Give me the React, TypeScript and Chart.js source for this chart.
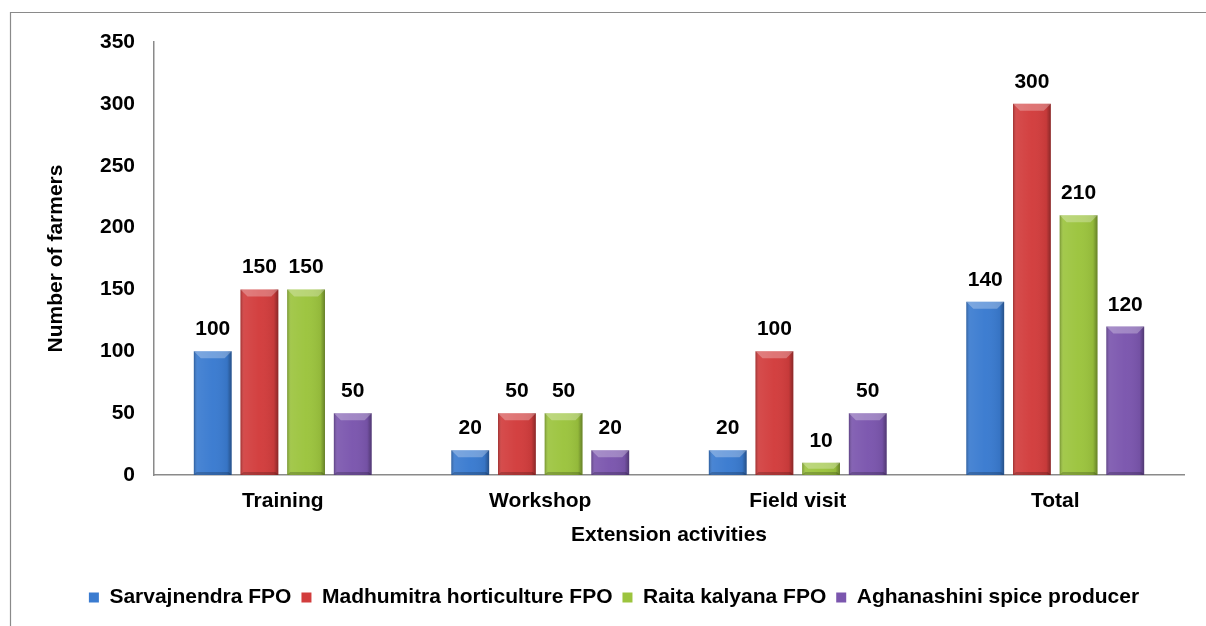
import React, { useEffect, useRef } from "react";
import { Chart, registerables } from "chart.js";

Chart.register(...registerables);

const categories = ["Training", "Workshop", "Field visit", "Total"];
const seriesNames = [
  "Sarvajnendra FPO",
  "Madhumitra horticulture FPO",
  "Raita kalyana FPO",
  "Aghanashini spice producer",
];
const sarvajnendra = [100, 20, 20, 140];
const madhumitra = [150, 50, 100, 300];
const raitaKalyana = [150, 50, 10, 210];
const aghanashini = [50, 20, 50, 120];
const yTicks = [0, 50, 100, 150, 200, 250, 300, 350];
const seriesColors = ["#3a7bd0", "#d23d3d", "#9cc43e", "#7b56ae"];

const FONT = "'Liberation Sans', Arial, Helvetica, sans-serif";

const framePlugin = {
  id: "frame",
  beforeDraw(chart: any) {
    const ctx = chart.ctx;
    ctx.save();
    ctx.fillStyle = "#ffffff";
    ctx.fillRect(0, 0, chart.width, chart.height);
    ctx.strokeStyle = "#8a8a8a";
    ctx.lineWidth = 1.2;
    ctx.beginPath();
    ctx.moveTo(10.5, chart.height);
    ctx.lineTo(10.5, 12.5);
    ctx.lineTo(chart.width, 12.5);
    ctx.stroke();
    ctx.restore();
  },
};

const bevelPlugin = {
  id: "bevel",
  afterDatasetsDraw(chart: any) {
    const ctx = chart.ctx;
    ctx.save();
    chart.data.datasets.forEach((_ds: any, di: number) => {
      const meta = chart.getDatasetMeta(di);
      meta.data.forEach((bar: any) => {
        const w = bar.width;
        const left = bar.x - w / 2;
        const right = bar.x + w / 2;
        const top = bar.y;
        const bottom = bar.base;
        const h = bottom - top;
        if (h <= 0) return;
        const g = ctx.createLinearGradient(left, 0, right, 0);
        g.addColorStop(0, "rgba(0,0,0,0.25)");
        g.addColorStop(0.1, "rgba(255,255,255,0.08)");
        g.addColorStop(0.5, "rgba(255,255,255,0.02)");
        g.addColorStop(0.88, "rgba(0,0,0,0.06)");
        g.addColorStop(1, "rgba(0,0,0,0.35)");
        ctx.fillStyle = g;
        ctx.fillRect(left, top, w, h);
        const b = Math.min(7, h / 2);
        ctx.fillStyle = "rgba(255,255,255,0.28)";
        ctx.beginPath();
        ctx.moveTo(left, top);
        ctx.lineTo(right, top);
        ctx.lineTo(right - b, top + b);
        ctx.lineTo(left + b, top + b);
        ctx.closePath();
        ctx.fill();
        const bb = Math.min(3, b);
        ctx.fillStyle = "rgba(0,0,0,0.2)";
        ctx.beginPath();
        ctx.moveTo(left, bottom);
        ctx.lineTo(right, bottom);
        ctx.lineTo(right - bb, bottom - bb);
        ctx.lineTo(left + bb, bottom - bb);
        ctx.closePath();
        ctx.fill();
      });
    });
    ctx.restore();
  },
};

const valueLabelPlugin = {
  id: "valueLabels",
  afterDatasetsDraw(chart: any) {
    const ctx = chart.ctx;
    ctx.save();
    ctx.font = `bold 21px ${FONT}`;
    ctx.fillStyle = "#000000";
    ctx.textAlign = "center";
    ctx.textBaseline = "alphabetic";
    chart.data.datasets.forEach((ds: any, di: number) => {
      const meta = chart.getDatasetMeta(di);
      meta.data.forEach((bar: any, i: number) => {
        ctx.fillText(String(ds.data[i]), bar.x, bar.y - 16);
      });
    });
    ctx.restore();
  },
};

export default function App() {
  const canvasRef = useRef<HTMLCanvasElement | null>(null);

  useEffect(() => {
    const canvas = canvasRef.current;
    if (!canvas) return;
    const seriesValues = [sarvajnendra, madhumitra, raitaKalyana, aghanashini];
    const chart = new Chart(canvas, {
      type: "bar",
      data: {
        labels: categories,
        datasets: seriesNames.map((name, i) => ({
          label: name,
          data: seriesValues[i],
          backgroundColor: seriesColors[i],
          borderWidth: 0,
          categoryPercentage: 0.725,
          barPercentage: 0.81,
        })),
      },
      options: {
        responsive: false,
        animation: false,
        layout: { padding: { top: 42, right: 0, left: 22, bottom: 8 } },
        plugins: {
          legend: {
            position: "bottom",
            labels: {
              color: "#000000",
              font: { family: FONT, size: 21, weight: "bold" },
              boxWidth: 10,
              boxHeight: 10,
              padding: 10,
            },
          },
          tooltip: { enabled: false },
        },
        scales: {
          x: {
            grid: { display: false, drawTicks: false },
            border: { display: true, color: "#8a8a8a", width: 1.5 },
            ticks: {
              color: "#000000",
              font: { family: FONT, size: 21, weight: "bold" },
              padding: 14,
            },
            title: {
              display: true,
              text: "Extension activities",
              color: "#000000",
              font: { family: FONT, size: 21, weight: "bold" },
              padding: { top: 0, bottom: 29 },
            },
            afterFit: (s: any) => {
              s.height = 102;
            },
          },
          y: {
            min: 0,
            max: 350,
            afterBuildTicks: (s: any) => {
              s.ticks = yTicks.map((v) => ({ value: v }));
            },
            grid: { display: false, drawTicks: false },
            border: { display: true, color: "#8a8a8a", width: 1.5 },
            ticks: {
              color: "#000000",
              font: { family: FONT, size: 21, weight: "bold" },
              padding: 19,
            },
            title: {
              display: true,
              text: "Number of farmers",
              color: "#000000",
              font: { family: FONT, size: 21, weight: "bold" },
              padding: { top: 22, bottom: 0 },
            },
            afterFit: (s: any) => {
              s.width = 132;
            },
          },
          rightSpace: {
            type: "linear",
            position: "right",
            display: true,
            grid: { display: false, drawTicks: false },
            border: { display: false },
            ticks: { display: false },
            afterFit: (s: any) => {
              s.width = 22;
            },
          },
        },
      },
      plugins: [framePlugin, bevelPlugin, valueLabelPlugin],
    } as any);
    return () => chart.destroy();
  }, []);

  return (
    <div style={{ position: "absolute", left: 0, top: 0, width: 1206, height: 626 }}>
      <canvas ref={canvasRef} width={1206} height={626} style={{ display: "block" }} />
    </div>
  );
}
